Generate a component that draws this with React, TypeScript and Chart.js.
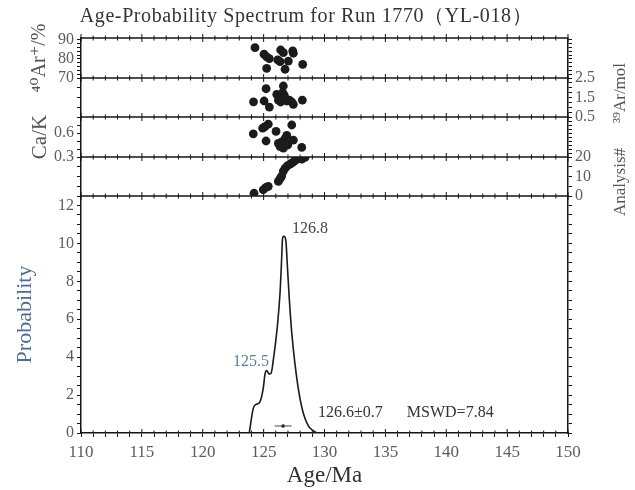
import React, { useEffect, useRef } from 'react';
import { Chart, registerables } from 'chart.js';

Chart.register(...registerables);

// ---------------- data ----------------
const TITLE = 'Age-Probability Spectrum for Run 1770（YL-018）';

// 40Ar* (%) panel
const ageAr40 = [124.29, 125.03, 125.25, 125.47, 125.25, 126.40, 126.62, 126.16, 126.35, 127.03, 127.39, 127.44, 126.76, 128.21];
const ar40 = [85.9, 82.5, 81.1, 80.2, 75.1, 84.7, 83.3, 79.5, 78.6, 78.9, 84.2, 83.0, 74.6, 77.2];

// 39Ar (mol) panel
const ageAr39 = [124.17, 125.04, 125.20, 125.47, 126.08, 126.21, 126.40, 126.57, 126.62, 126.70, 126.40, 126.89, 127.11, 127.30, 127.44, 128.18];
const ar39 = [1.28, 1.32, 1.95, 1.01, 1.66, 1.37, 1.54, 1.75, 2.09, 1.61, 1.27, 1.32, 1.36, 1.27, 1.15, 1.37];

// Ca/K panel
const ageCaK = [124.15, 124.92, 125.11, 125.38, 125.20, 126.02, 126.21, 126.35, 126.48, 126.62, 126.76, 126.90, 126.98, 127.31, 127.44, 128.13];
const caK = [0.59, 0.66, 0.68, 0.71, 0.50, 0.62, 0.47, 0.43, 0.49, 0.41, 0.53, 0.57, 0.45, 0.70, 0.51, 0.42];

// Analysis # panel
const ageAnalysis = [124.21, 124.97, 125.20, 125.38, 126.21, 126.35, 126.48, 126.62, 126.76, 126.94, 127.17, 127.39, 127.58, 128.13, 128.40];
const analysisNo = [1.4, 3.2, 4.4, 4.9, 7.5, 8.9, 10.2, 12.8, 14.2, 15.4, 16.3, 17.2, 18.1, 18.9, 19.8];

// probability spectrum
const probAge = [123.82, 124.15, 124.43, 124.70, 124.98, 125.11, 125.25, 125.44, 125.61, 125.80, 126.13, 126.35, 126.49, 126.54, 126.62, 126.76, 126.84, 126.95, 127.11, 127.31, 127.58, 127.91, 128.26, 128.67, 129.08, 129.36];
const prob = [0, 1.30, 1.52, 1.64, 2.40, 3.10, 3.30, 3.12, 3.15, 3.87, 5.64, 7.41, 9.35, 10.15, 10.38, 10.33, 10.06, 8.82, 7.06, 5.29, 3.62, 2.10, 1.04, 0.38, 0.12, 0];

// weighted mean with error bar
const meanAge = 126.6;
const meanErr = 0.7;
const meanBarY = 0.37;
const mswd = 7.84;
const peakMain = 126.8;
const peakSecond = 125.5;

// axis tick labels
const xLabels = [110, 115, 120, 125, 130, 135, 140, 145, 150];
const probLabels = [0, 2, 4, 6, 8, 10, 12];
const ar40Labels = [70, 80, 90];
const ar39Labels = [0.5, 1.5, 2.5];
const caKLabels = [0.3, 0.6];
const analysisLabels = [0, 10, 20];

// ---------------- styling ----------------
const SERIF = "'Liberation Serif', 'DejaVu Serif', serif";
const TICK_COLOR = '#5c5c5c';
const LINE = '#151515';
const LEFT_W = 81;
const RIGHT_W = 67;

function range(a: number, b: number, s: number) {
  const out: number[] = [];
  const n = Math.round((b - a) / s);
  for (let i = 0; i <= n; i++) out.push(+(a + i * s).toFixed(4));
  return out;
}

function near(list: number[], v: number) {
  return list.some((l) => Math.abs(l - v) < 1e-6);
}

function yAxis(o: {
  pos: 'left' | 'right';
  min: number;
  max: number;
  step: number;
  labels: number[];
  weight: number;
  sw: number;
  title?: any;
  fmt?: (v: number) => string;
}) {
  const ticksList = range(o.min, Math.floor((o.max - o.min) / o.step + 1e-6) * o.step + o.min, o.step);
  return {
    type: 'linear',
    position: o.pos,
    stack: o.pos === 'left' ? 'L' : 'R',
    stackWeight: o.sw,
    weight: o.weight,
    min: o.min,
    max: o.max,
    border: { display: true, color: LINE, width: 1.5 },
    grid: { drawOnChartArea: false, drawTicks: true, tickLength: 4, tickColor: LINE, tickWidth: 1 },
    ticks: {
      autoSkip: false,
      padding: 3,
      color: TICK_COLOR,
      font: { family: SERIF, size: 16 },
      callback: (v: number) => (near(o.labels, v) ? (o.fmt ? o.fmt(v) : String(v)) : ''),
    },
    afterBuildTicks: (s: any) => {
      s.ticks = ticksList.map((v) => ({ value: v }));
    },
    afterFit: (s: any) => {
      s.width = o.pos === 'left' ? LEFT_W : RIGHT_W;
    },
    title: o.title || { display: false },
  };
}

const toXY = (xs: number[], ys: number[]) => xs.map((x, i) => ({ x, y: ys[i] }));

const decoPlugin = {
  id: 'deco',
  beforeDatasetsDraw(chart: any) {
    const ctx = chart.ctx;
    const { left, right } = chart.chartArea;
    const x = chart.scales.x;
    const seps = ['yA', 'yM', 'yC', 'yN', 'yP'].map((id) => chart.scales[id].top);
    ctx.save();
    ctx.strokeStyle = LINE;
    ctx.lineWidth = 1.5;
    seps.forEach((y: number) => {
      ctx.beginPath();
      ctx.moveTo(left, y);
      ctx.lineTo(right, y);
      ctx.stroke();
    });
    ctx.lineWidth = 1;
    for (let v = 110; v <= 150; v++) {
      const px = x.getPixelForValue(v);
      const len = v % 5 === 0 ? 4 : 2.5;
      seps.forEach((y: number) => {
        ctx.beginPath();
        ctx.moveTo(px, y - len);
        ctx.lineTo(px, y + len);
        ctx.stroke();
      });
      const b = chart.chartArea.bottom;
      ctx.beginPath();
      ctx.moveTo(px, b);
      ctx.lineTo(px, b - len);
      ctx.stroke();
    }
    ctx.restore();
  },
  afterDraw(chart: any) {
    const ctx = chart.ctx;
    const x = chart.scales.x;
    const yP = chart.scales.yP;
    ctx.save();
    // title
    ctx.fillStyle = '#333';
    ctx.font = `20px ${SERIF}`;
    ctx.textAlign = 'center';
    ctx.textBaseline = 'middle';
    (ctx as any).letterSpacing = '0.6px';
    ctx.fillText(TITLE, 306, 17);
    (ctx as any).letterSpacing = '0px';

    // right side titles (rotated, reading upward)
    ctx.fillStyle = '#555';
    ctx.font = `17px ${SERIF}`;
    const rt = (t: string, cx: number, cy: number) => {
      ctx.save();
      ctx.translate(cx, cy);
      ctx.rotate(-Math.PI / 2);
      ctx.textAlign = 'center';
      ctx.textBaseline = 'middle';
      ctx.fillText(t, 0, 0);
      ctx.restore();
    };
    rt('³⁹Ar/mol', 621, 93);
    rt('Analysis#', 621, 182);

    // annotations
    ctx.font = `16px ${SERIF}`;
    ctx.textAlign = 'center';
    ctx.textBaseline = 'middle';
    ctx.fillStyle = '#444';
    ctx.fillText(peakMain.toFixed(1), x.getPixelForValue(128.81), yP.getPixelForValue(10.77));
    ctx.fillStyle = '#5a7fa8';
    ctx.fillText(peakSecond.toFixed(1), x.getPixelForValue(123.96), yP.getPixelForValue(3.77));
    ctx.fillStyle = '#333';
    ctx.textAlign = 'left';
    ctx.fillText(`${meanAge.toFixed(1)}±${meanErr.toFixed(1)}      MSWD=${mswd.toFixed(2)}`, x.getPixelForValue(129.47), yP.getPixelForValue(1.06));
    ctx.restore();
  },
};

export default function App() {
  const ref = useRef<HTMLCanvasElement>(null);

  useEffect(() => {
    if (!ref.current) return;
    const pointStyle = { pointRadius: 4.4, pointHoverRadius: 4.4, backgroundColor: '#1b1b1b', borderWidth: 0 };
    const chart = new Chart(ref.current, {
      type: 'scatter',
      data: {
        datasets: [
          { data: toXY(ageAr40, ar40), yAxisID: 'yA', ...pointStyle } as any,
          { data: toXY(ageAr39, ar39), yAxisID: 'yM', ...pointStyle } as any,
          { data: toXY(ageCaK, caK), yAxisID: 'yC', ...pointStyle } as any,
          { data: toXY(ageAnalysis, analysisNo), yAxisID: 'yN', ...pointStyle } as any,
          {
            type: 'line',
            data: toXY(probAge, prob),
            yAxisID: 'yP',
            borderColor: '#1a1a1a',
            borderWidth: 1.6,
            pointRadius: 0,
            cubicInterpolationMode: 'monotone',
            fill: false,
          } as any,
          {
            type: 'line',
            data: [
              { x: meanAge - meanErr, y: meanBarY },
              { x: meanAge + meanErr, y: meanBarY },
            ],
            yAxisID: 'yP',
            borderColor: '#444',
            borderWidth: 1,
            pointRadius: 0,
          } as any,
          {
            data: [{ x: meanAge, y: meanBarY }],
            yAxisID: 'yP',
            pointRadius: 1.8,
            backgroundColor: '#111',
            borderWidth: 0,
          } as any,
        ],
      },
      options: {
        animation: false,
        responsive: false,
        maintainAspectRatio: false,
        layout: { padding: { top: 38, left: 0, right: 0, bottom: 0 } },
        plugins: { legend: { display: false }, tooltip: { enabled: false }, title: { display: false } },
        scales: {
          x: {
            type: 'linear',
            position: 'bottom',
            min: 110,
            max: 150,
            border: { display: true, color: LINE, width: 1.5 },
            grid: { drawOnChartArea: false, drawTicks: true, tickLength: 4, tickColor: LINE },
            ticks: {
              autoSkip: false,
              maxRotation: 0,
              padding: 5,
              color: TICK_COLOR,
              font: { family: SERIF, size: 17 },
              callback: (v: number) => (near(xLabels, v) ? String(v) : ''),
            },
            afterBuildTicks: (s: any) => {
              s.ticks = range(110, 150, 1).map((v) => ({ value: v }));
            },
            afterFit: (s: any) => {
              s.height = 57;
            },
            title: { display: true, text: 'Age/Ma', color: '#333', font: { family: SERIF, size: 23 }, padding: { top: 0, bottom: 0 } },
          },
          yP: yAxis({
            pos: 'left', min: 0, max: 12.5, step: 0.5, labels: probLabels, weight: 1, sw: 237,
            title: { display: true, text: 'Probability', color: '#4a6d98', font: { family: SERIF, size: 22 }, padding: { top: 12, bottom: 0 } },
          }),
          yN: yAxis({ pos: 'left', min: 0, max: 20, step: 5, labels: [], weight: 2, sw: 39 }),
          yC: yAxis({
            pos: 'left', min: 0.3, max: 0.8, step: 0.1, labels: caKLabels, weight: 3, sw: 40, fmt: (v) => v.toFixed(1),
            title: { display: true, text: 'Ca/K', color: '#555', font: { family: SERIF, size: 21 }, padding: { top: 28, bottom: 0 } },
          }),
          yM: yAxis({ pos: 'left', min: 0.5, max: 2.5, step: 0.5, labels: [], weight: 4, sw: 39 }),
          yA: yAxis({
            pos: 'left', min: 70, max: 91, step: 2, labels: ar40Labels, weight: 5, sw: 40,
            title: { display: true, text: '⁴⁰Ar⁺/%', color: '#555', font: { family: SERIF, size: 20 }, padding: { top: 28, bottom: 0 } },
          }),
          rA: yAxis({ pos: 'right', min: 70, max: 91, step: 2, labels: [], weight: 1, sw: 40 }),
          rM: yAxis({ pos: 'right', min: 0.5, max: 2.5, step: 0.25, labels: ar39Labels, weight: 2, sw: 39, fmt: (v) => v.toFixed(1) }),
          rC: yAxis({ pos: 'right', min: 0.3, max: 0.8, step: 0.05, labels: [], weight: 3, sw: 40 }),
          rN: yAxis({ pos: 'right', min: 0, max: 20, step: 5, labels: analysisLabels, weight: 4, sw: 39 }),
          rP: yAxis({ pos: 'right', min: 0, max: 12.5, step: 0.5, labels: [], weight: 5, sw: 237 }),
        } as any,
      },
      plugins: [decoPlugin],
    });
    return () => chart.destroy();
  }, []);

  return (
    <div style={{ position: 'fixed', left: 0, top: 0, width: 635, height: 490, background: '#fff' }}>
      <canvas ref={ref} width={635} height={490} style={{ display: 'block' }} />
    </div>
  );
}
